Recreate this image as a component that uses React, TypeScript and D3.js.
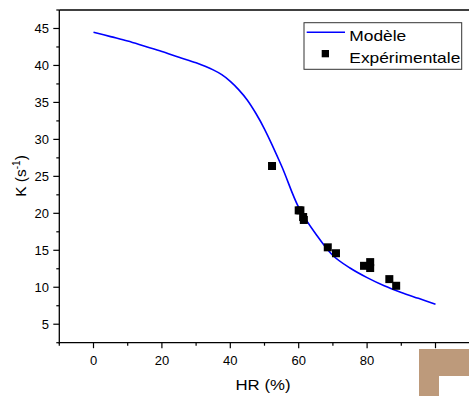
import React from "react";
import * as d3 from "d3";

const modelHR = [0, 5, 10, 15, 20, 25, 30, 35, 37.5, 40, 42.5, 45, 47.5, 50, 55, 60, 65, 70, 75, 80, 85, 90, 95, 100];
const modelK = [44.5, 43.9, 43.3, 42.6, 41.9, 41.1, 40.35, 39.4, 38.75, 37.85, 36.7, 35.3, 33.5, 31.4, 26.4, 20.8, 17.2, 14.3, 12.6, 11.3, 10.2, 9.3, 8.5, 7.7];

const expHR = [52.2, 60.0, 60.5, 61.3, 61.5, 68.5, 70.9, 79.1, 80.9, 80.9, 86.5, 88.5];
const expK = [26.4, 20.4, 20.4, 19.5, 19.1, 15.4, 14.6, 12.9, 13.4, 12.6, 11.1, 10.2];

const xMajor = [0, 20, 40, 60, 80, 100];
const xMinor = [-10, 10, 30, 50, 70, 90];
const yMajor = [5, 10, 15, 20, 25, 30, 35, 40, 45];
const yMinor = [2.5, 7.5, 12.5, 17.5, 22.5, 27.5, 32.5, 37.5, 42.5, 47.5];

const legendLabels = ["Modèle", "Expérimentale"];
const xTitle = "HR (%)";

export default function App() {
  const W = 469, H = 396;
  const left = 59.3, right = 469.7, top = 10, bottom = 342.7;
  const x = d3.scaleLinear().domain([-10, 110]).range([left, right]);
  const y = d3.scaleLinear().domain([2.5, 47.5]).range([bottom, top]);
  const line = d3
    .line<number>()
    .x((_, i) => x(modelHR[i]))
    .y((d) => y(d))
    .curve(d3.curveCatmullRom.alpha(0.5));
  const font = "Arial, 'Liberation Sans', sans-serif";
  const ms = 8;
  return (
    <svg width={W} height={H} style={{ position: "absolute", left: 0, top: 0, background: "#fff" }} fontFamily={font}>
      <rect x={0} y={0} width={W} height={H} fill="#fff" />
      <path d={line(modelK) || ""} fill="none" stroke="#0000ff" strokeWidth={1.6} />
      {expHR.map((h, i) => (
        <rect key={i} x={x(h) - ms / 2} y={y(expK[i]) - ms / 2} width={ms} height={ms} fill="#000" />
      ))}
      <line x1={left} x2={W} y1={top} y2={top} stroke="#000" strokeWidth={1.3} />
      <line x1={left} x2={left} y1={top} y2={bottom + 1} stroke="#000" strokeWidth={1.3} />
      <line x1={left} x2={W} y1={bottom} y2={bottom} stroke="#000" strokeWidth={1.3} />
      {xMajor.map((v) => (
        <g key={"xm" + v}>
          <line x1={x(v)} x2={x(v)} y1={bottom} y2={bottom + 5.5} stroke="#000" strokeWidth={1.2} />
          <text x={x(v)} y={365} textAnchor="middle" fontSize={13} fill="#000">{v}</text>
        </g>
      ))}
      {xMinor.map((v) => (
        <line key={"xn" + v} x1={x(v)} x2={x(v)} y1={bottom} y2={bottom + 3} stroke="#000" strokeWidth={1.2} />
      ))}
      {yMajor.map((v) => (
        <g key={"ym" + v}>
          <line x1={left - 6} x2={left} y1={y(v)} y2={y(v)} stroke="#000" strokeWidth={1.2} />
          <text x={49} y={y(v)} dy="0.36em" textAnchor="end" fontSize={13} fill="#000">{v}</text>
        </g>
      ))}
      {yMinor.map((v) => (
        <line key={"yn" + v} x1={left - 3} x2={left} y1={y(v)} y2={y(v)} stroke="#000" strokeWidth={1.2} />
      ))}
      <text x={263} y={390} textAnchor="middle" fontSize={14.5} textLength={55} lengthAdjust="spacingAndGlyphs" fill="#000">{xTitle}</text>
      <text transform="translate(26,176) rotate(-90)" textAnchor="middle" fontSize={15.5} fill="#000">
        K (s<tspan fontSize={10} dy={-6}>-1</tspan><tspan dy={6}>)</tspan>
      </text>
      <rect x={304} y={22.7} width={157.7} height={46.6} fill="#fff" stroke="#333" strokeWidth={1} />
      <line x1={306.7} x2={345} y1={32.3} y2={32.3} stroke="#0000ff" strokeWidth={1.6} />
      <text x={349.3} y={41} fontSize={15} textLength={57} lengthAdjust="spacingAndGlyphs" fill="#000">{legendLabels[0]}</text>
      <rect x={321.7} y={50} width={7.3} height={7.3} fill="#000" />
      <text x={349.3} y={63} fontSize={15} textLength={111} lengthAdjust="spacingAndGlyphs" fill="#000">{legendLabels[1]}</text>
      <path d="M419,349 H469 V376 H439 V396 H419 Z" fill="#bd9a7b" />
    </svg>
  );
}
